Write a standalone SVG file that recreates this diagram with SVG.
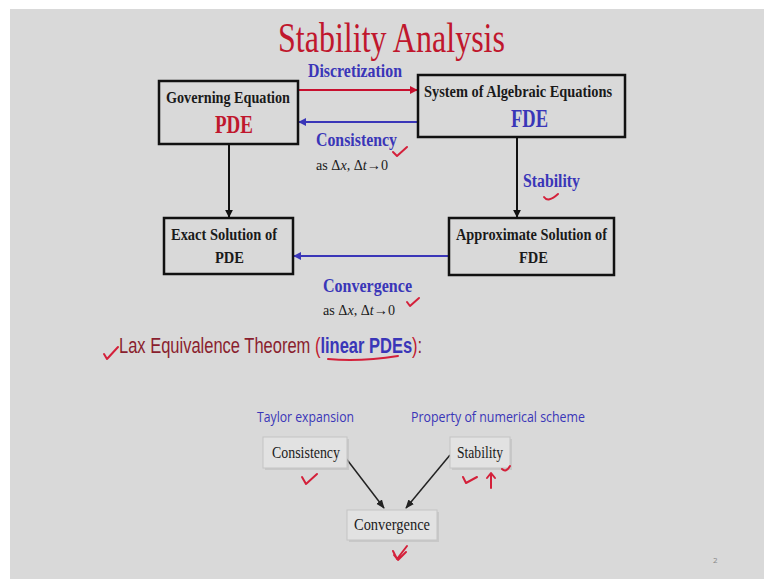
<svg xmlns="http://www.w3.org/2000/svg" width="764" height="579" viewBox="0 0 764 579">
<defs>
<style>
.serif{font-family:"Liberation Serif","Times New Roman",serif}
.sans{font-family:"Open Sans","Liberation Sans",sans-serif}
.b{font-weight:bold}
.box{fill:none;stroke:#111;stroke-width:2.5}
.blk{fill:#1a1a1a}
.blue{fill:#3a36b8}
.red{fill:#c0172d}
.maroon{fill:#8a1e2e}
.ln{fill:none;stroke-width:2}
.chk{fill:none;stroke:#d4203a;stroke-width:2;stroke-linecap:round;stroke-linejoin:round}
.sbox{fill:#e2e2e2;stroke:#c4c4c4;stroke-width:1}
.shadow{fill:#bdbdbd;opacity:0.6}
</style>
<marker id="ab" viewBox="0 0 10 10" refX="9" refY="5" markerWidth="4" markerHeight="4" orient="auto"><path d="M0,0 L10,5 L0,10 z" fill="#111"/></marker>
<marker id="ar" viewBox="0 0 10 10" refX="9" refY="5" markerWidth="4" markerHeight="4" orient="auto"><path d="M0,0 L10,5 L0,10 z" fill="#c8102e"/></marker>
<marker id="au" viewBox="0 0 10 10" refX="9" refY="5" markerWidth="4" markerHeight="4" orient="auto"><path d="M0,0 L10,5 L0,10 z" fill="#3a36b8"/></marker>
<marker id="ak" viewBox="0 0 10 10" refX="9" refY="5" markerWidth="6" markerHeight="6" orient="auto"><path d="M0,1 L10,5 L0,9 z" fill="#222"/></marker>
</defs>
<rect x="0" y="0" width="764" height="579" fill="#ffffff"/>
<rect x="10" y="9" width="754" height="570" fill="#d9d9d9"/>

<text class="serif red" x="278" y="52" font-size="42" textLength="227" lengthAdjust="spacingAndGlyphs">Stability Analysis</text>

<g id="connectors">
<line class="ln" x1="298" y1="90" x2="417" y2="90" stroke="#c8102e" marker-end="url(#ar)"/>
<line class="ln" x1="418" y1="122" x2="299" y2="122" stroke="#3a36b8" marker-end="url(#au)"/>
<line class="ln" x1="229" y1="145" x2="229" y2="217" stroke="#111" marker-end="url(#ab)"/>
<line class="ln" x1="517" y1="138" x2="517" y2="217" stroke="#111" marker-end="url(#ab)"/>
<line class="ln" x1="449" y1="256" x2="294" y2="256" stroke="#3a36b8" marker-end="url(#au)"/>
<line x1="345" y1="457" x2="384" y2="508" stroke="#222" stroke-width="1.5" marker-end="url(#ak)"/>
<line x1="450" y1="455" x2="406" y2="508" stroke="#222" stroke-width="1.5" marker-end="url(#ak)"/>
</g>

<g id="label-discretization"><text class="serif b blue" x="308" y="77" font-size="19" textLength="94" lengthAdjust="spacingAndGlyphs">Discretization</text></g>
<g id="label-consistency">
<text class="serif b blue" x="316" y="146" font-size="19" textLength="81" lengthAdjust="spacingAndGlyphs">Consistency</text>
<text class="serif blk" x="316" y="170" font-size="15" textLength="72" lengthAdjust="spacingAndGlyphs">as Δ<tspan font-style="italic">x</tspan>, Δ<tspan font-style="italic">t</tspan>→0</text>
</g>
<g id="label-stability"><text class="serif b blue" x="523" y="187" font-size="18" textLength="57" lengthAdjust="spacingAndGlyphs">Stability</text></g>
<g id="label-convergence">
<text class="serif b blue" x="323" y="292" font-size="19" textLength="89" lengthAdjust="spacingAndGlyphs">Convergence</text>
<text class="serif blk" x="323" y="315" font-size="15" textLength="72" lengthAdjust="spacingAndGlyphs">as Δ<tspan font-style="italic">x</tspan>, Δ<tspan font-style="italic">t</tspan>→0</text>
</g>

<g id="governing">
<rect class="box" x="159" y="81" width="139" height="63"/>
<text class="serif b blk" x="166" y="103" font-size="16" textLength="124" lengthAdjust="spacingAndGlyphs">Governing Equation</text>
<text class="serif b red" x="215" y="133" font-size="26" textLength="38" lengthAdjust="spacingAndGlyphs">PDE</text>
</g>
<g id="system">
<rect class="box" x="418" y="75" width="207" height="62"/>
<text class="serif b blk" x="424" y="97" font-size="16" textLength="188" lengthAdjust="spacingAndGlyphs">System of Algebraic Equations</text>
<text class="serif b blue" x="511" y="127" font-size="26" textLength="37" lengthAdjust="spacingAndGlyphs">FDE</text>
</g>
<g id="exact">
<rect class="box" x="164" y="218" width="129" height="56"/>
<text class="serif b blk" x="171" y="240" font-size="16" textLength="106" lengthAdjust="spacingAndGlyphs">Exact Solution of</text>
<text class="serif b blk" x="215" y="263" font-size="16" textLength="29" lengthAdjust="spacingAndGlyphs">PDE</text>
</g>
<g id="approx">
<rect class="box" x="449" y="218" width="165" height="57"/>
<text class="serif b blk" x="456" y="240" font-size="16" textLength="151" lengthAdjust="spacingAndGlyphs">Approximate Solution of</text>
<text class="serif b blk" x="519" y="263" font-size="16" textLength="29" lengthAdjust="spacingAndGlyphs">FDE</text>
</g>

<g id="lax" transform="translate(119,353) scale(0.75,1)">
<text x="0" y="0" font-family="'Liberation Sans',Arial,sans-serif" font-size="22"><tspan class="maroon">Lax Equivalence Theorem </tspan><tspan fill="#c0172d">(</tspan><tspan class="blue" font-weight="bold">linear PDEs</tspan><tspan fill="#c0172d">)</tspan><tspan class="maroon">:</tspan></text>
</g>

<g id="taylor"><text class="sans" x="257" y="422" font-size="15" fill="#3a36b8" textLength="97" lengthAdjust="spacingAndGlyphs">Taylor expansion</text></g>
<g id="property"><text class="sans" x="411" y="422" font-size="15" fill="#3a36b8" textLength="174" lengthAdjust="spacingAndGlyphs">Property of numerical scheme</text></g>

<g id="consistency-box">
<rect class="shadow" x="265" y="439" width="84" height="31"/>
<rect class="sbox" x="263" y="437" width="84" height="31"/>
<text class="serif blk" x="272" y="458" font-size="16" textLength="68" lengthAdjust="spacingAndGlyphs">Consistency</text>
</g>
<g id="stability-box">
<rect class="shadow" x="452" y="439" width="60" height="31"/>
<rect class="sbox" x="450" y="437" width="60" height="31"/>
<text class="serif blk" x="457" y="458" font-size="16" textLength="46" lengthAdjust="spacingAndGlyphs">Stability</text>
</g>
<g id="convergence-box">
<rect class="shadow" x="349" y="512" width="90" height="30"/>
<rect class="sbox" x="347" y="510" width="90" height="30"/>
<text class="serif blk" x="354" y="530" font-size="16" textLength="76" lengthAdjust="spacingAndGlyphs">Convergence</text>
</g>

<g id="annotations">
<path class="chk" d="M393,152 L397,156 L407,147"/>
<path class="chk" d="M544,197 Q548,203 558,194"/>
<path class="chk" d="M407,302 L410,306 L419,298"/>
<path class="chk" d="M104,354 L107,359 L118,347"/>
<path class="chk" d="M328,359 Q360,362 398,356"/>
<path class="chk" stroke-width="3" d="M302,477 L306,484 L317,474"/>
<path class="chk" stroke-width="2.5" d="M463,477 L466,483 L477,477"/>
<path class="chk" d="M491,488 L491,474 M487,478 L491,473 L495,478"/>
<path class="chk" d="M502,469 Q506,473 510,466"/>
<path class="chk" stroke-width="2.5" d="M393,551 L397,559 L407,546 M394,555 L398,560 L406,552"/>
</g>

<text class="sans" x="713" y="563" font-size="8" fill="#888">2</text>
</svg>
